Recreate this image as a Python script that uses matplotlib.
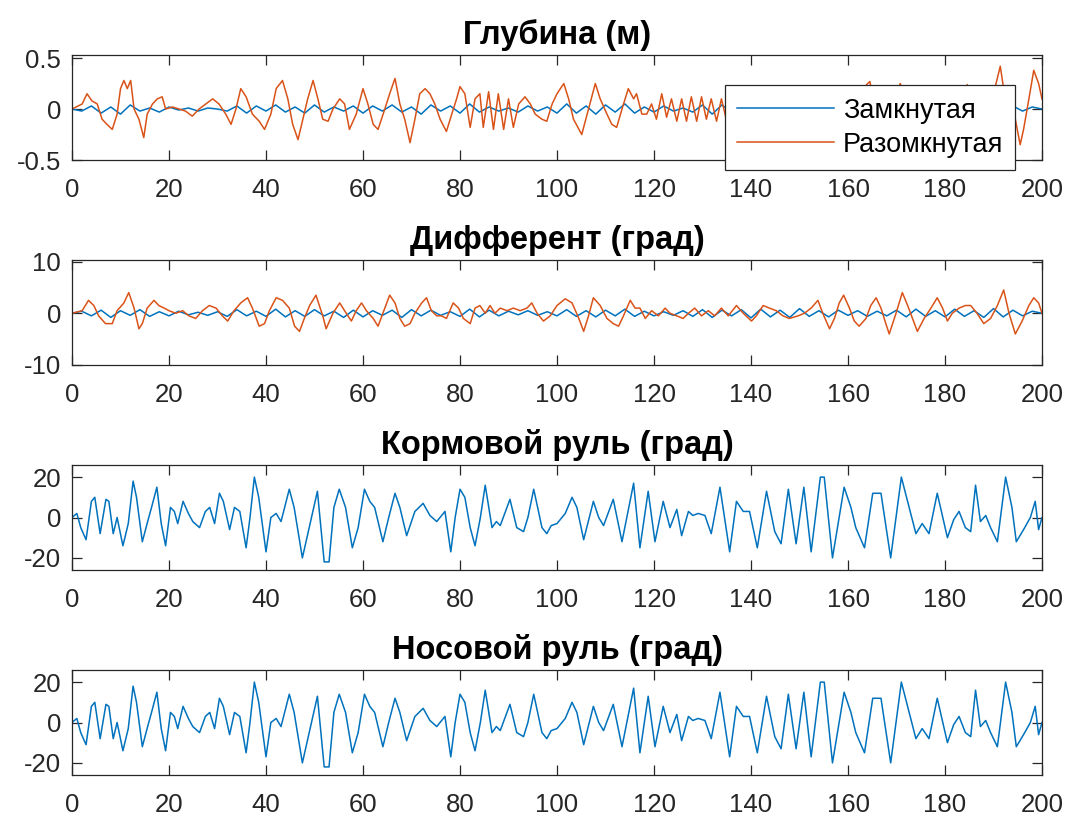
import numpy as np
import matplotlib
matplotlib.use("Agg")
import matplotlib.pyplot as plt

plt.rcParams['font.family'] = ['Liberation Sans', 'DejaVu Sans']

# --- data (time s, value) ---
# Глубина, разомкнутая система (м)
depth_open = [(0, 0), (2.1, 0.05), (3.1, 0.15), (4.1, 0.08), (5.2, 0.05), (6.2, -0.1), (7.2, -0.15),
              (8.3, -0.2), (9.3, -0.05), (10.0, 0.2), (10.7, 0.28), (11.4, 0.2), (12.1, 0.28), (12.8, 0),
              (13.8, -0.1), (14.8, -0.28), (15.5, -0.05), (16.6, 0.05), (17.6, 0.1), (18.6, 0.12),
              (19.3, 0), (20.7, 0.02), (22.1, 0), (23.4, -0.02), (24.8, -0.07), (26.2, 0), (27.6, 0.05),
              (29.0, 0.1), (30.3, 0.05), (31.7, -0.05), (32.8, -0.15), (33.8, 0), (34.8, 0.2),
              (35.9, 0.12), (37.2, -0.05), (38.6, -0.12), (39.7, -0.2), (41.0, -0.05), (42.1, 0.2),
              (43.4, 0.28), (44.5, 0.1), (45.5, -0.15), (46.6, -0.3), (47.6, -0.1), (48.6, 0.1),
              (49.7, 0.28), (50.7, 0.1), (51.7, -0.1), (52.8, -0.12), (53.8, 0), (55.2, 0.1),
              (56.2, 0.05), (57.2, -0.2), (58.6, -0.05), (60.0, 0.2), (61.0, 0.05), (62.1, -0.15),
              (63.1, -0.2), (64.5, 0), (65.5, 0.15), (66.6, 0.3), (67.6, 0.05), (68.6, -0.1),
              (69.7, -0.33), (70.7, -0.1), (71.7, 0.15), (72.8, 0.2), (73.8, 0.15), (74.8, 0.05),
              (75.9, -0.1), (77.2, -0.22), (78.3, -0.05), (79.3, 0.1), (80.0, 0.22), (81.0, 0.15),
              (82.1, -0.18), (83.1, 0.1), (84.1, 0.15), (84.8, -0.18), (85.9, 0.17), (86.9, -0.2),
              (87.9, 0.15), (89.0, -0.2), (90.0, 0.1), (91.0, -0.18), (92.1, 0.05), (93.4, 0.12),
              (94.5, 0.05), (95.5, -0.05), (96.9, -0.1), (97.9, -0.12), (99.0, 0.05), (100.0, 0.15),
              (101.4, 0.25), (102.4, 0.1), (103.4, -0.1), (105.1, -0.25), (106.5, 0), (107.9, 0.25),
              (108.9, 0.1), (110.3, -0.05), (111.3, -0.15), (112.3, -0.18), (113.4, 0), (114.7, 0.2),
              (115.8, 0.1), (116.4, 0.15), (117.5, -0.05), (118.5, -0.05), (119.5, 0.05), (120.5, -0.1),
              (121.6, 0.15), (122.6, -0.08), (123.6, 0.1), (124.7, -0.12), (125.7, 0.1), (126.7, -0.12),
              (127.7, 0.12), (128.8, -0.12), (129.8, 0.12), (130.8, -0.1), (131.8, 0.1), (132.9, -0.12),
              (133.9, 0.1), (134.9, -0.1), (136.0, 0.08), (137.5, -0.12), (139.0, 0.1), (140.5, -0.15),
              (142.0, 0.15), (144.0, -0.1), (146.0, 0.12), (148.0, -0.15), (150.0, 0.1), (152.0, -0.12),
              (154.0, 0.15), (156.0, -0.15), (158.0, 0.1), (160.0, -0.1), (162.0, 0.15), (164.5, 0.27),
              (165.5, 0.05), (167.0, -0.2), (169.0, 0.1), (170.8, 0.25), (172.5, -0.1), (174.0, -0.2),
              (176.0, 0.1), (178.0, -0.15), (180.0, 0.15), (182.0, -0.1), (184.6, 0.24), (186.0, -0.1),
              (188.0, -0.2), (190.0, 0.15), (191.4, 0.42), (192.4, 0.1), (193.5, 0.05), (194.5, -0.1),
              (195.5, -0.35), (196.2, -0.2), (197.3, 0.1), (198.3, 0.38), (199.3, 0.25), (200.0, 0.1)]

# Глубина, замкнутая система (м), отсчёты через 2 с
depth_closed = [0.0, -0.02, 0.03, -0.04, 0.02, -0.05, 0.04, -0.02, 0.01, -0.03,
                0.02, -0.01, 0.01, -0.02, 0.01, 0.0, -0.02, 0.03, -0.04, 0.03,
                -0.02, 0.04, -0.03, 0.02, -0.04, 0.04, -0.03, 0.02, -0.02, 0.03,
                -0.04, 0.03, -0.02, 0.04, -0.03, 0.02, -0.05, 0.04, -0.02, 0.03,
                -0.04, 0.05, -0.03, 0.02, -0.02, 0.01, -0.03, 0.03, -0.02, 0.02,
                -0.04, 0.05, -0.04, 0.03, -0.05, 0.04, -0.03, 0.05, -0.04, 0.02,
                -0.03, 0.03, -0.02, 0.01, -0.03, 0.04, -0.05, 0.04, -0.03, 0.05,
                -0.04, 0.05, -0.05, 0.03, -0.04, 0.05, -0.03, 0.02, -0.04, 0.03,
                -0.02, 0.04, -0.03, 0.02, -0.02, 0.03, -0.04, 0.05, -0.04, 0.03,
                -0.03, 0.04, -0.03, 0.02, -0.04, 0.05, -0.05, 0.03, -0.02, 0.02,
                0.0]

# Дифферент, разомкнутая система (град)
trim_open = [(0, 0), (2.1, 0.5), (3.4, 2.5), (4.5, 1.5), (5.5, -0.5), (6.9, -2), (8.3, -2), (9.3, 0.5),
             (10.7, 2), (11.7, 4), (12.8, 1), (13.8, -3), (14.5, -2), (15.5, 1), (16.9, 2.5), (17.9, 1.5),
             (19.0, 1), (20.0, 0.5), (21.4, 0), (22.8, 0.5), (24.1, -0.5), (25.5, -1), (26.9, 0.5),
             (28.3, 1.5), (29.7, 1), (31.0, -0.5), (32.1, -1.5), (33.4, 0.5), (34.8, 2), (36.2, 3),
             (37.2, 1), (38.6, -2.5), (39.7, -2), (40.7, 0.5), (42.1, 3), (43.4, 2.5), (44.8, 1),
             (45.9, -2.5), (46.9, -3.5), (47.9, -1), (49.0, 1.5), (50.3, 3.5), (51.7, -0.5), (52.4, -3),
             (53.8, 0), (55.2, 2), (56.2, 0.5), (57.6, -1.5), (58.6, 0.5), (59.7, 2), (60.7, 0.5),
             (62.1, -1), (63.1, -2.5), (64.1, 0), (65.5, 3.5), (66.6, 2), (67.6, -1), (68.6, -2.5),
             (69.7, -2), (70.7, 0), (72.1, 2), (73.1, 3), (74.1, 0.5), (75.2, -0.5), (76.2, -0.5),
             (77.2, -1), (78.6, 2), (79.7, 1), (80.7, -1), (82.1, -2), (83.1, 1), (84.1, 1.5), (85.2, 0),
             (86.2, 1.5), (87.2, 0), (88.3, 1), (89.7, 0.5), (91.0, 1), (92.4, 0.5), (93.8, 1), (94.8, 2),
             (95.9, 0), (97.2, -1.5), (98.6, -0.5), (100.0, 1.5), (101.7, 2.8), (103.1, 2), (104.5, -1),
             (105.5, -3.5), (106.5, -0.5), (107.5, 3), (108.9, 1.5), (110.3, -1), (111.6, -2),
             (112.7, -2.5), (113.7, -0.5), (115.1, 2.5), (116.1, 1), (117.1, 1), (118.2, -1), (119.5, 0.5),
             (120.9, -0.5), (122.3, 1), (123.3, 0), (124.7, -0.5), (126.0, -1), (127.1, 0), (128.4, 1),
             (129.8, -0.5), (131.2, 0.5), (132.5, -0.5), (133.9, 1), (135.3, -0.5), (137.0, 1.5),
             (138.4, 0), (140.1, -1.5), (141.1, -0.5), (142.5, 1.5), (143.8, 1), (145.2, 0.5),
             (146.6, -0.5), (147.9, -1), (149.7, -0.5), (151.0, 0), (152.4, 1), (153.8, 2.5), (154.8, 0),
             (156.2, -3), (157.2, -1), (158.2, 2), (159.1, 3.5), (160.3, 1), (161.3, -1.5), (162.3, -2.5),
             (163.7, -1), (164.7, 1.5), (165.8, 3), (166.8, 1), (167.8, -2), (168.5, -4), (169.9, 0),
             (171.2, 4), (172.3, 1.5), (173.3, -1), (174.3, -3.5), (175.7, -1), (177.1, 1), (178.4, 3),
             (179.5, 1), (180.5, -1.5), (181.5, 0), (182.9, 1), (184.2, 1.5), (185.3, 1.5), (186.6, 0),
             (188.0, -2), (189.4, -1), (190.8, 1.5), (192.1, 4.5), (193.2, 0), (194.5, -4), (195.9, -1.5),
             (197.3, 1.5), (198.3, 3), (199.3, 2), (200.0, 0)]

# Дифферент, замкнутая система (град), отсчёты через 2 с
trim_closed = [0.0, 0.4, -0.5, 0.6, -0.8, 0.5, -0.4, 0.7, -0.6, 0.3,
               -0.5, 0.4, -0.3, 0.2, -0.4, 0.3, -0.6, 0.7, -0.5, 0.4,
               -0.6, 0.8, -0.7, 0.5, -0.6, 0.7, -0.5, 0.4, -0.8, 0.6,
               -0.7, 0.5, -0.4, 0.6, -0.8, 0.7, -0.5, 0.6, -0.4, 0.3,
               -0.6, 0.8, -0.7, 0.6, -0.5, 0.4, -0.3, 0.5, -0.4, 0.3,
               -0.5, 0.7, -0.6, 0.5, -0.7, 0.6, -0.5, 0.8, -0.6, 0.4,
               -0.5, 0.3, -0.4, 0.5, -0.6, 0.7, -0.8, 0.6, -0.5, 0.7,
               -0.9, 0.8, -0.7, 0.6, -0.8, 0.9, -0.6, 0.5, -0.7, 0.6,
               -0.4, 0.5, -0.6, 0.4, -0.5, 0.6, -0.7, 0.8, -0.6, 0.5,
               -0.7, 0.8, -0.6, 0.5, -0.8, 0.9, -0.7, 0.6, -0.5, 0.4,
               0.0]

# Кормовой руль (град)
stern_rudder = [(0, 0), (1.0, 2), (1.8, -5), (2.9, -11), (4.0, 8), (4.7, 10), (5.8, -8), (7.0, 9), (7.6, 8),
                (8.5, -8), (9.3, 0), (10.5, -14), (11.6, -3), (12.6, 18), (13.3, 10), (14.5, -12),
                (15.6, -2), (16.4, 5), (17.5, 15), (18.4, -3), (19.3, -14), (20.3, 5), (21.1, 3),
                (21.8, -3), (22.9, 8), (24.0, 2), (24.9, -2), (26.3, -5), (27.5, 3), (28.4, 5),
                (29.4, -3), (30.4, 12), (31.2, 8), (32.5, -6), (33.5, 5), (34.6, 3), (35.9, -15),
                (36.7, 0), (37.6, 20), (38.5, 10), (40.0, -17), (41.0, 0), (42.1, 2), (43.1, -2),
                (44.8, 14), (45.8, 5), (47.5, -20), (48.9, -5), (50.6, 13), (52.0, -22), (53.0, -22),
                (54.0, 5), (55.1, 14), (56.4, 5), (57.8, -15), (59.0, -5), (60.3, 14), (61.4, 8),
                (62.4, 5), (64.1, -12), (65.3, 0), (66.6, 12), (67.6, 5), (69.0, -9), (70.7, 3),
                (72.4, 7), (73.8, 1), (75.2, -2), (76.9, 3), (78.1, -17), (79.0, 0), (80.0, 14),
                (81.0, 10), (82.1, -5), (83.1, -14), (84.2, 0), (85.2, 16), (86.6, -5), (87.5, -2),
                (88.3, -4), (90.3, 9), (91.7, -5), (93.1, -7), (94.0, 0), (95.2, 14), (96.9, -5),
                (97.9, -8), (98.8, -4), (100.0, -3), (101.7, 2), (103.1, 10), (104.1, 5), (105.5, -11),
                (107.5, 8), (108.6, 0), (109.6, -4), (111.6, 9), (113.4, -12), (115.8, 17), (117.1, -15),
                (118.8, 13), (120.2, -12), (121.9, 8), (123.3, -5), (124.7, 4), (125.7, -9), (127.1, 3),
                (128.0, 1), (129.1, 2), (130.5, 1), (131.8, -8), (133.6, 15), (135.6, -17), (137.0, 8),
                (138.4, 3), (139.7, 3), (141.3, -15), (143.2, 13), (144.9, -7), (146.2, -13), (147.7, 14),
                (149.3, -13), (150.9, 15), (152.4, -17), (154.3, 20), (155.1, 20), (156.8, -20),
                (159.2, 15), (160.6, 5), (161.6, -5), (163.4, -15), (165.1, 12), (166.8, 12), (168.8, -20),
                (171.0, 20), (172.6, 5), (174.0, -8), (175.3, -3), (176.7, -8), (178.4, 12), (180.5, -10),
                (181.8, -1), (182.9, 3), (184.2, -5), (185.3, -7), (186.3, 16), (187.3, -2), (188.4, 1),
                (189.4, -5), (190.8, -12), (192.5, 20), (193.8, 5), (194.7, -12), (196.2, -6), (197.6, 0),
                (198.6, 8), (199.3, -6), (200.0, 0)]

# Носовой руль (град) - в исходнике совпадает с кормовым
bow_rudder = list(stern_rudder)

titles = ['Глубина (м)', 'Дифферент (град)', 'Кормовой руль (град)', 'Носовой руль (град)']
legend_labels = ['Замкнутая', 'Разомкнутая']

blue = '#0072BD'
orange = '#D95319'
dark = '#262626'

fig = plt.figure(figsize=(10.69, 8.21), dpi=100)
W, H = 1069, 821
boxes = [(72, 55, 1042, 160), (72, 260, 1042, 365), (72, 465, 1042, 570), (72, 670, 1042, 775)]
axes = []
for (x0, y0, x1, y1) in boxes:
    ax = fig.add_axes([x0 / W, 1 - y1 / H, (x1 - x0) / W, (y1 - y0) / H])
    axes.append(ax)


def pts(p):
    t, v = zip(*p)
    return np.array(t), np.array(v)


ax1, ax2, ax3, ax4 = axes
t_o, v_o = pts(depth_open)
ax1.plot(np.linspace(0, 200, len(depth_closed)), depth_closed, color=blue, lw=1.1, label=legend_labels[0])
ax1.plot(t_o, v_o, color=orange, lw=1.1, label=legend_labels[1])
ax1.set_ylim(-0.5, 0.53)
ax1.set_yticks([-0.5, 0, 0.5])
ax1.set_yticklabels(['-0.5', '0', '0.5'])

t_o, v_o = pts(trim_open)
ax2.plot(np.linspace(0, 200, len(trim_closed)), trim_closed, color=blue, lw=1.1)
ax2.plot(t_o, v_o, color=orange, lw=1.1)
ax2.set_ylim(-10, 10.3)
ax2.set_yticks([-10, 0, 10])
ax2.set_yticklabels(['-10', '0', '10'])

for ax, data in [(ax3, stern_rudder), (ax4, bow_rudder)]:
    t, v = pts(data)
    ax.plot(t, v, color=blue, lw=1.1)
    ax.set_ylim(-26, 26)
    ax.set_yticks([-20, 0, 20])
    ax.set_yticklabels(['-20', '0', '20'])

for ax, title in zip(axes, titles):
    ax.set_xlim(0, 200)
    ax.set_xticks(range(0, 201, 20))
    ax.set_title(title, fontsize=23.5, fontweight='bold', pad=8, color='black')
    ax.tick_params(direction='in', top=True, right=True, length=7, width=0.9,
                   labelsize=18.5, colors=dark, pad=8)
    ax.tick_params(axis='x', pad=13)
    for s in ax.spines.values():
        s.set_color(dark)
        s.set_linewidth(0.9)

leg = ax1.legend(loc='lower left', bbox_to_anchor=(0.673, -0.095), fontsize=19.5,
                 fancybox=False, framealpha=1, edgecolor=dark, handlelength=3.6,
                 borderpad=0.45, labelspacing=0.3, handletextpad=0.3, borderaxespad=0)
leg.get_frame().set_linewidth(0.9)
leg.set_zorder(10)

fig.savefig('out.png', dpi=100)
